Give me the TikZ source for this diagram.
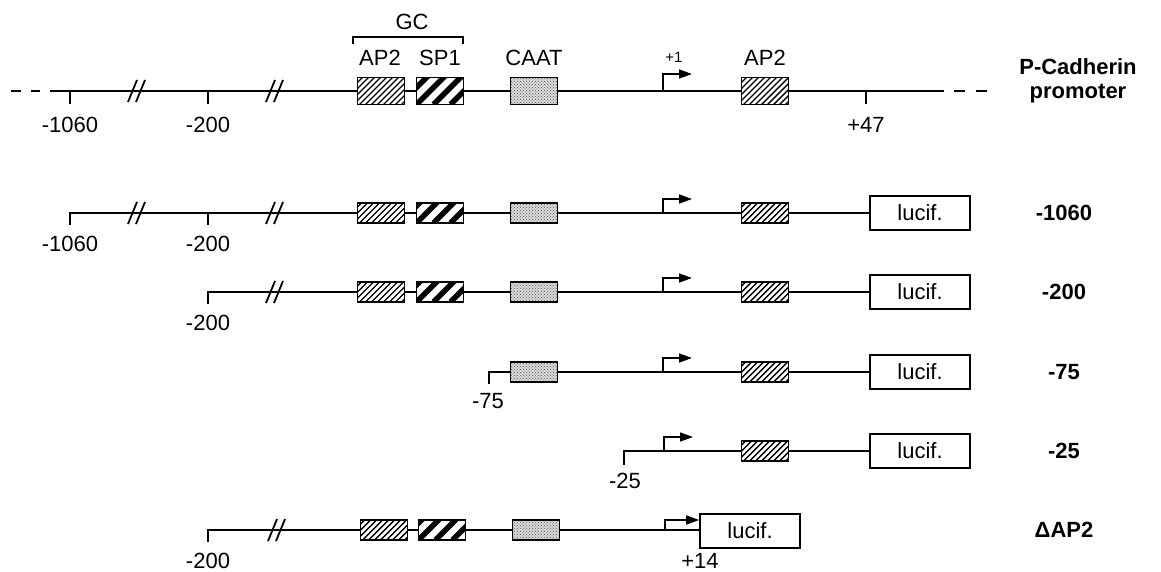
\documentclass[tikz,border=0pt]{standalone}
\usepackage{fontspec}
\setmainfont{Liberation Sans}
\usetikzlibrary{arrows.meta,backgrounds,patterns}
\begin{document}
\begin{tikzpicture}[x=1pt,y=-1pt,
  line/.style={line width=1.6pt},
  boxbase/.style={draw, line width=1.8pt, inner sep=0pt, minimum width=47pt},
  tall/.style={minimum height=27pt},
  short/.style={minimum height=20pt},
  ap2/.style={boxbase, fill=white, path picture={
     \foreach \k in {-40,-34,...,52} \draw[line width=1.4pt] ([xshift=\k pt]path picture bounding box.south west) -- ++(30pt,30pt);}},
  sp1/.style={boxbase, fill=white, path picture={
     \foreach \k in {-34,-17,...,52} \draw[line width=5.5pt] ([xshift=\k pt]path picture bounding box.south west) -- ++(30pt,30pt);}},
  caat/.style={boxbase, preaction={fill=gray!30}, pattern=crosshatch dots, pattern color=gray!70!black},
  luc/.style={draw, line width=1.6pt, fill=white, minimum width=100pt, minimum height=34pt, inner sep=0pt, font=\fontsize{22}{24}\selectfont},
  lbl/.style={font=\fontsize{22}{24}\selectfont, inner sep=0pt},
  slbl/.style={font=\fontsize{15}{17}\selectfont, inner sep=0pt},
  rlbl/.style={font=\fontsize{22}{24}\selectfont\bfseries, inner sep=0pt, align=center},
  tss/.style={line, -{Triangle[length=13pt,width=9pt]}},
  brk/.pic={\draw[line width=1.8pt] (-9,11) -- (0,-11) (-1,11) -- (8,-11);}
]
\useasboundingbox (0,0) rectangle (1161,572);

% ---------- Row 1: P-Cadherin promoter ----------
\node[ap2,tall] (a1) at (381,91) {};
\node[sp1,tall] (s1) at (440,91) {};
\node[caat,tall] (c1) at (534,91) {};
\node[ap2,tall] (b1) at (765,91) {};
\coordinate (r1s) at (50,91);
\coordinate (r1e) at (944,91);
\coordinate (p1) at (663,91);
\begin{pgfonlayer}{background}
\draw[line] (r1s) -- (r1e);
\end{pgfonlayer}
\draw[line] (11,91) -- (21,91) (31,91) -- (40,91);
\draw[line] (954,91) -- (965,91) (976,91) -- (987,91);
\pic at (137,91) {brk};
\pic at (275,91) {brk};
\draw[line] (70,91) -- ++(0,13);
\draw[line] (208,91) -- ++(0,13);
\draw[line] (866,91) -- ++(0,13);
\node[lbl] (l1a) at (70,125) {-1060};
\node[lbl] (l1b) at (208,125) {-200};
\node[lbl] (l1c) at (866,125) {+47};
\draw[tss] (p1) -- ++(0,-17) -- ++(29,0);
\node[slbl] (plus1) at (674,57) {+1};
\draw[line width=1.4pt] (353,44) -- (353,37) -- (463,37) -- (463,44);
\node[lbl] (gc) at (412,22) {GC};
\node[lbl] (ta1) at (380,58) {AP2};
\node[lbl] (ts1) at (440,58) {SP1};
\node[lbl] (tc1) at (534,58) {CAAT};
\node[lbl] (tb1) at (765,58) {AP2};
\node[rlbl] (name1) at (1078,81) {P-Cadherin\\promoter};

% ---------- Row 2: -1060 ----------
\node[ap2,short] (a2) at (381,213) {};
\node[sp1,short] (s2) at (440,213) {};
\node[caat,short] (c2) at (534,213) {};
\node[ap2,short] (b2) at (765,213) {};
\node[luc] (L2) at (920,213) {lucif.};
\coordinate (r2s) at (70,213);
\coordinate (p2) at (663,213);
\begin{pgfonlayer}{background}
\draw[line] ([yshift=-12pt]r2s) -- (r2s) -- (L2.west);
\end{pgfonlayer}
\pic at (137,213) {brk};
\pic at (275,213) {brk};
\draw[line] (208,213) -- ++(0,12);
\draw[tss] (p2) -- ++(0,-14) -- ++(29,0);
\node[lbl] (l2a) at (70,244) {-1060};
\node[lbl] (l2b) at (208,244) {-200};
\node[rlbl] (name2) at (1064,213) {-1060};

% ---------- Row 3: -200 ----------
\node[ap2,short] (a3) at (381,292) {};
\node[sp1,short] (s3) at (440,292) {};
\node[caat,short] (c3) at (534,292) {};
\node[ap2,short] (b3) at (765,292) {};
\node[luc] (L3) at (920,292) {lucif.};
\coordinate (r3s) at (208,292);
\coordinate (p3) at (663,292);
\begin{pgfonlayer}{background}
\draw[line] ([yshift=-12pt]r3s) -- (r3s) -- (L3.west);
\end{pgfonlayer}
\pic at (275,292) {brk};
\draw[tss] (p3) -- ++(0,-14) -- ++(29,0);
\node[lbl] (l3a) at (208,323) {-200};
\node[rlbl] (name3) at (1064,292) {-200};

% ---------- Row 4: -75 ----------
\node[caat,short] (c4) at (534,372) {};
\node[ap2,short] (b4) at (765,372) {};
\node[luc] (L4) at (920,372) {lucif.};
\coordinate (r4s) at (489,372);
\coordinate (p4) at (663,372);
\begin{pgfonlayer}{background}
\draw[line] ([yshift=-12pt]r4s) -- (r4s) -- (L4.west);
\end{pgfonlayer}
\draw[tss] (p4) -- ++(0,-14) -- ++(29,0);
\node[lbl] (l4a) at (488,401) {-75};
\node[rlbl] (name4) at (1064,372) {-75};

% ---------- Row 5: -25 ----------
\node[ap2,short] (b5) at (765,451) {};
\node[luc] (L5) at (920,451) {lucif.};
\coordinate (r5s) at (624,451);
\coordinate (p5) at (664,451);
\begin{pgfonlayer}{background}
\draw[line] ([yshift=-14pt]r5s) -- (r5s) -- (L5.west);
\end{pgfonlayer}
\draw[tss] (p5) -- ++(0,-14) -- ++(29,0);
\node[lbl] (l5a) at (625,481) {-25};
\node[rlbl] (name5) at (1064,451) {-25};

% ---------- Row 6: Delta AP2 ----------
\node[ap2,short] (a6) at (384,530) {};
\node[sp1,short] (s6) at (442,530) {};
\node[caat,short] (c6) at (536,530) {};
\node[luc] (L6) at (750,531) {lucif.};
\coordinate (r6s) at (208,530);
\coordinate (p6) at (665,530);
\begin{pgfonlayer}{background}
\draw[line] ([yshift=-12pt]r6s) -- (r6s) -- (p6) -- (L6.west |- p6);
\end{pgfonlayer}
\pic at (277,530) {brk};
\draw[tss] (p6) |- ([yshift=11pt]L6.west);
\node[lbl] (l6a) at (208,561) {-200};
\node[lbl] (l6b) at (700,561) {+14};
\node[rlbl] (name6) at (1064,530) {ΔAP2};
\end{tikzpicture}
\end{document}
